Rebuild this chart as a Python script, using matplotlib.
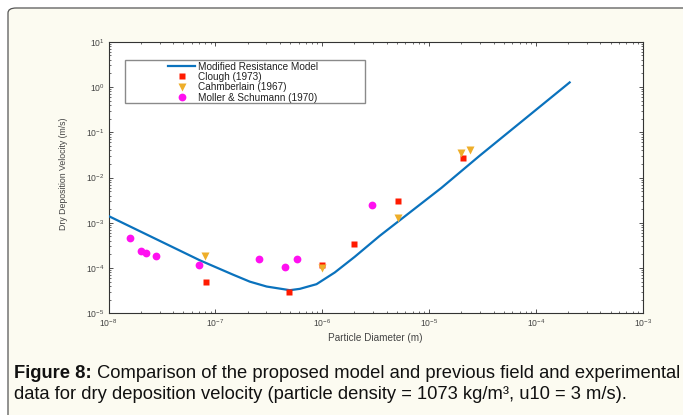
import matplotlib
matplotlib.use('Agg')
import matplotlib.pyplot as plt
from matplotlib import font_manager
from matplotlib.patches import FancyBboxPatch, Rectangle
from matplotlib.lines import Line2D

# ---------------- data ----------------
model_diam = [1.0e-8, 7.16e-8, 1.47e-7, 2.10e-7, 3.02e-7, 4.97e-7, 6.17e-7, 8.83e-7,
              1.31e-6, 2.01e-6, 3.44e-6, 5.90e-6, 1.30e-5, 2.96e-5, 2.06e-4]
model_vel = [1.41e-3, 1.48e-4, 7.1e-5, 5.0e-5, 3.9e-5, 3.24e-5, 3.47e-5, 4.4e-5,
             8.0e-5, 1.77e-4, 5.13e-4, 1.38e-3, 5.89e-3, 3.02e-2, 1.26]

clough_diam = [8.1e-8, 4.9e-7, 1.0e-6, 2.0e-6, 5.1e-6, 2.05e-5]
clough_vel = [5.0e-5, 3.0e-5, 1.17e-4, 3.4e-4, 3.0e-3, 2.75e-2]

cham_diam = [8.0e-8, 1.0e-6, 5.1e-6, 1.98e-5, 2.4e-5]
cham_vel = [1.8e-4, 1.0e-4, 1.3e-3, 3.5e-2, 4.1e-2]

moller_diam = [1.59e-8, 2.0e-8, 2.24e-8, 2.8e-8, 7.0e-8, 2.55e-7, 4.5e-7, 5.8e-7, 2.9e-6]
moller_vel = [4.6e-4, 2.4e-4, 2.1e-4, 1.8e-4, 1.15e-4, 1.6e-4, 1.05e-4, 1.6e-4, 2.45e-3]

labels = ['Modified Resistance Model', 'Clough (1973)', 'Cahmberlain (1967)',
          'Moller & Schumann (1970)']
x_label = 'Particle Diameter (m)'
y_label = 'Dry Deposition Velocity (m/s)'
cap_bold = 'Figure 8:'
cap_rest1 = ' Comparison of the proposed model and previous field and experimental'
cap_line2 = 'data for dry deposition velocity (particle density = 1073 kg/m\u00b3, u10 = 3 m/s).'

# ---------------- fonts ----------------
names = {f.name for f in font_manager.fontManager.ttflist}
base_font = 'Liberation Sans' if 'Liberation Sans' in names else 'DejaVu Sans'
plt.rcParams['font.family'] = [base_font, 'DejaVu Sans']
plt.rcParams['mathtext.fontset'] = 'custom'
plt.rcParams['mathtext.rm'] = base_font

W, H = 683, 415
fig = plt.figure(figsize=(W / 100, H / 100), dpi=100)
fig.patch.set_facecolor('white')


def fx(px):
    return px / W


def fy(py):
    return 1 - py / H


# cream rounded panel
panel = FancyBboxPatch((fx(8), fy(470)), fx(720), 470 / H - 8 / H,
                       boxstyle='round,pad=0,rounding_size=0.012',
                       transform=fig.transFigure, facecolor='#fcfbf1',
                       edgecolor='#555555', linewidth=0.9, zorder=-5)
fig.patches.append(panel)

ax_l, ax_r, ax_t, ax_b = 108.5, 643, 41.7, 313.3
ax = fig.add_axes([fx(ax_l), fy(ax_b), fx(ax_r - ax_l), (ax_b - ax_t) / H])
ax.set_facecolor('white')
ax.set_xscale('log')
ax.set_yscale('log')
ax.set_xlim(1e-8, 1e-3)
ax.set_ylim(1e-5, 1e1)

ax.plot(model_diam, model_vel, color='#0a72bd', lw=1.6, zorder=3,
        solid_joinstyle='round')
ax.plot(clough_diam, clough_vel, 's', color='#ff1a00', ms=4.2, mec='none', zorder=4)
ax.plot(cham_diam, cham_vel, 'v', color='#eeae2a', ms=5.5, mec='none', zorder=4)
ax.plot(moller_diam, moller_vel, 'o', color='#ff10f0', ms=5.6, mec='none', zorder=4)

for s in ax.spines.values():
    s.set_color('#333333')
    s.set_linewidth(0.8)
ax.tick_params(which='both', direction='in', top=True, right=True,
               colors='#333333', labelsize=6.2, labelcolor='#444444')
ax.tick_params(which='major', length=3, width=0.6)
ax.tick_params(which='minor', length=1.6, width=0.5)
ax.tick_params(axis='x', pad=3)
ax.tick_params(axis='y', pad=3)
ax.xaxis.set_major_locator(matplotlib.ticker.LogLocator(base=10, numticks=10))
ax.yaxis.set_major_locator(matplotlib.ticker.LogLocator(base=10, numticks=10))
ax.xaxis.set_minor_locator(matplotlib.ticker.LogLocator(base=10, subs=range(2, 10), numticks=20))
ax.yaxis.set_minor_locator(matplotlib.ticker.LogLocator(base=10, subs=range(2, 10), numticks=20))
ax.xaxis.set_minor_formatter(matplotlib.ticker.NullFormatter())
ax.yaxis.set_minor_formatter(matplotlib.ticker.NullFormatter())

fig.text(fx(375), fy(338), x_label, ha='center', va='center', fontsize=7.2, color='#444444')
fig.text(fx(64), fy(174), y_label, ha='center', va='center', rotation=90,
         fontsize=6.3, color='#444444')

# legend frame (inside the axes, above the data area)
ax.add_patch(Rectangle((fx(125), fy(103)), fx(240), 43 / H,
                       transform=fig.transFigure, facecolor='white',
                       edgecolor='#8a8a8a', linewidth=1.0, zorder=6, clip_on=False))
handles = [Line2D([], [], color='#0a72bd', lw=1.6),
           Line2D([], [], marker='s', ls='none', color='#ff1a00', ms=4.2, mec='none'),
           Line2D([], [], marker='v', ls='none', color='#eeae2a', ms=5.5, mec='none'),
           Line2D([], [], marker='o', ls='none', color='#ff10f0', ms=5.6, mec='none')]
leg = ax.legend(handles, labels, loc='upper left',
                bbox_to_anchor=(fx(168), fy(61.5)), bbox_transform=fig.transFigure,
                frameon=False, fontsize=7.2,
                borderpad=0, borderaxespad=0, handlelength=2.7, handletextpad=0.25,
                labelspacing=0.04)
leg.set_zorder(7)
for t in leg.get_texts():
    t.set_color('#222222')

# caption
renderer = fig.canvas.get_renderer()
cap_fs = 13
tb = fig.text(fx(14), fy(373), cap_bold, ha='left', va='center', fontsize=cap_fs,
              fontweight='bold', color='#111111')
bb = tb.get_window_extent(renderer)
t1 = fig.text(bb.x1 / W, fy(373), cap_rest1, ha='left', va='center', fontsize=cap_fs,
              color='#111111')
t2 = fig.text(fx(14), fy(394), cap_line2, ha='left', va='center', fontsize=cap_fs,
              color='#111111')
right = t1.get_window_extent(renderer).x1
scale = (677 - 14) / (right - 14)
new_fs = cap_fs * scale
for t in (tb, t1, t2):
    t.set_fontsize(new_fs)
bb = tb.get_window_extent(renderer)
t1.set_x(bb.x1 / W)

fig.savefig('out.png', dpi=100, facecolor=fig.get_facecolor())
